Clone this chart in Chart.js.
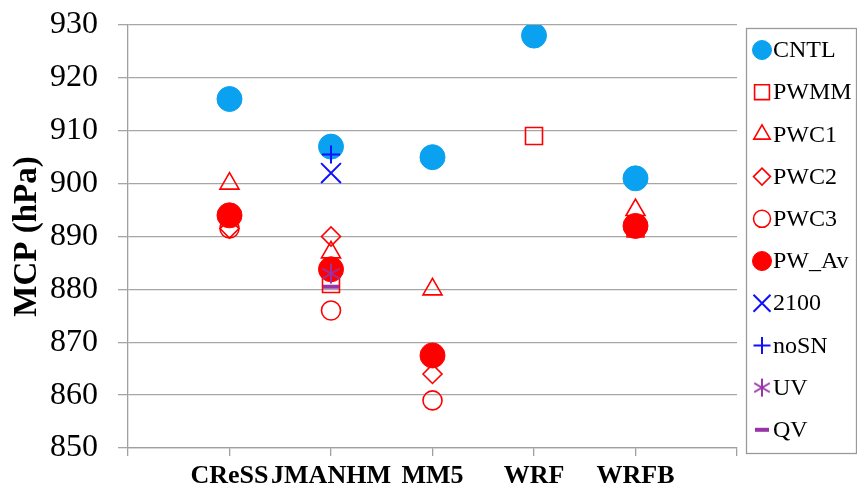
<!DOCTYPE html>
<html>
<head>
<meta charset="utf-8">
<script src="https://cdn.jsdelivr.net/npm/chart.js@4.4.0/dist/chart.umd.min.js"></script>
<style>
  html, body { margin: 0; padding: 0; background: #ffffff; }
  #wrap { width: 857px; height: 488px; position: relative; }
</style>
</head>
<body>
<div id="wrap"><canvas id="c"></canvas></div>
<script>
// Models along the x axis (placed at x = 1..5)
const models = ['CReSS', 'JMANHM', 'MM5', 'WRF', 'WRFB'];
// Y axis range and step (hPa)
const yMin = 850, yMax = 930, yStep = 10;

// Minimum central pressure per model for each experiment (null = not run)
const CNTL  = [916,   907,   905,   928,  901];
const PWMM  = [null,  881,   null,  909,  891.5];
const PWC1  = [900,   887,   880,   null, 895];
const PWC2  = [891.5, 890,   864,   null, 892];
const PWC3  = [891.5, 876,   859,   null, 892];
const PW_Av = [894,   883.8, 867.5, null, 892];
const R2100 = [null,  902,   null,  null, null];
const noSN  = [null,  905.5, null,  null, null];
const UV    = [null,  883,   null,  null, null];
const QV    = [null,  880.5, null,  null, null];

const RED = '#ff0000', SKY = '#0aa2f0', BLUE = '#1010ff', PURPLE = '#9933a8';
const SERIF = '"Liberation Serif", "Times New Roman", serif';

// Six-armed asterisk marker
function asterisk(size, color, lw) {
  const c = document.createElement('canvas');
  c.width = size; c.height = size;
  const g = c.getContext('2d');
  const r = size / 2 - 1, m = size / 2;
  g.strokeStyle = color; g.lineWidth = lw; g.lineCap = 'butt';
  g.beginPath();
  for (let k = 0; k < 3; k++) {
    const a = Math.PI / 2 + k * Math.PI / 3;
    g.moveTo(m + Math.cos(a) * r, m - Math.sin(a) * r);
    g.lineTo(m - Math.cos(a) * r, m + Math.sin(a) * r);
  }
  g.stroke();
  return c;
}
const uvMark = asterisk(22, PURPLE, 2);
const uvMarkLegend = asterisk(20, PURPLE, 2);

function pts(arr) {
  return arr.map((v, i) => (v === null ? null : { x: i + 1, y: v })).filter(p => p);
}

const series = [
  { label: 'CNTL',  data: CNTL,  style: 'circle',   fill: SKY,  stroke: SKY,   r: 12.5, lr: 9.5, bw: 1 },
  { label: 'PWMM',  data: PWMM,  style: 'rect',     fill: 'rgba(0,0,0,0)', stroke: RED, r: 12, lr: 10.5, bw: 1.6 },
  { label: 'PWC1',  data: PWC1,  style: 'triangle', fill: 'rgba(0,0,0,0)', stroke: RED, r: 11, lr: 9.5, bw: 1.6 },
  { label: 'PWC2',  data: PWC2,  style: 'rectRot',  fill: 'rgba(0,0,0,0)', stroke: RED, r: 9.5, lr: 8.5, bw: 1.6 },
  { label: 'PWC3',  data: PWC3,  style: 'circle',   fill: 'rgba(0,0,0,0)', stroke: RED, r: 9.5, lr: 8.5, bw: 1.6 },
  { label: 'PW_Av', data: PW_Av, style: 'circle',   fill: RED,  stroke: RED,   r: 12.5, lr: 9.5, bw: 1 },
  { label: '2100',  data: R2100, style: 'crossRot', fill: BLUE, stroke: BLUE,  r: 14, lr: 12, bw: 2 },
  { label: 'noSN',  data: noSN,  style: 'cross',    fill: BLUE, stroke: BLUE,  r: 9,  lr: 8.5, bw: 2 },
  { label: 'UV',    data: UV,    style: uvMark,     fill: PURPLE, stroke: PURPLE, r: 11, lr: 10, bw: 2, legendStyle: uvMarkLegend },
  { label: 'QV',    data: QV,    style: 'line',     fill: PURPLE, stroke: PURPLE, r: 8,  lr: 7,  bw: 4 }
];

const datasets = series.map((s, i) => ({
  label: s.label,
  data: pts(s.data),
  showLine: false,
  pointStyle: s.style,
  pointRadius: s.r,
  pointHoverRadius: s.r,
  pointBackgroundColor: s.fill,
  pointBorderColor: s.stroke,
  pointBorderWidth: s.bw,
  backgroundColor: s.fill,
  borderColor: s.stroke,
  order: series.length - i   // later series drawn on top
}));

// Boxed legend on the right
const boxLegend = {
  id: 'boxLegend',
  afterDraw(chart) {
    const ctx = chart.ctx;
    const left = 746, top = 28, bottom = 453, right = 856;
    ctx.save();
    ctx.strokeStyle = '#9a9a9a';
    ctx.lineWidth = 1.3;
    ctx.strokeRect(left + 0.5, top + 0.5, right - left, bottom - top);
    const x0 = 762, tx = 773, y0 = 50, dy = 42.2;
    ctx.font = '24px ' + SERIF;
    ctx.textBaseline = 'middle';
    ctx.textAlign = 'left';
    series.forEach((s, i) => {
      const y = y0 + i * dy;
      ctx.fillStyle = s.fill;
      ctx.strokeStyle = s.stroke;
      ctx.lineWidth = s.bw;
      Chart.helpers.drawPoint(ctx, {
        pointStyle: s.legendStyle || s.style,
        radius: s.lr,
        rotation: 0,
        borderWidth: s.bw
      }, x0, y);
      ctx.fillStyle = '#000000';
      ctx.fillText(s.label, tx, y + 1);
    });
    ctx.restore();
  }
};

new Chart(document.getElementById('c'), {
  type: 'scatter',
  data: { datasets },
  plugins: [boxLegend],
  options: {
    responsive: true,
    maintainAspectRatio: false,
    animation: false,
    layout: { padding: { top: 25, right: 120, left: 0, bottom: 0 } },
    plugins: {
      legend: { display: false },
      tooltip: { enabled: false }
    },
    scales: {
      x: {
        type: 'linear',
        min: 0, max: 6,
        afterFit(scale) { scale.height = 40; },
        afterBuildTicks(scale) {
          scale.ticks = [0, 1, 2, 3, 4, 5, 6].map(v => ({ value: v }));
        },
        ticks: {
          autoSkip: false,
          maxRotation: 0,
          padding: 5,
          color: '#000000',
          font: { family: SERIF, size: 26, weight: 'bold' },
          callback: v => models[v - 1] || ''
        },
        grid: { drawOnChartArea: false, drawTicks: true, tickLength: 8, color: '#a0a0a0', lineWidth: 1.3 },
        border: { color: '#a0a0a0', width: 1.3 }
      },
      y: {
        min: yMin, max: yMax,
        afterFit(scale) {
          scale.width = 128;
          // labels may overhang the plot edges; keep the plot area fixed
          scale.paddingTop = 0;
          scale.paddingBottom = 0;
        },
        ticks: {
          stepSize: yStep,
          padding: 20,
          color: '#000000',
          font: { family: SERIF, size: 32 }
        },
        grid: { color: '#a6a6a6', lineWidth: 1.3, tickLength: 10 },
        border: { color: '#a0a0a0', width: 1.3 },
        title: {
          display: true,
          text: 'MCP (hPa)',
          color: '#000000',
          padding: { top: 8, bottom: 0 },
          font: { family: SERIF, size: 33, weight: 'bold' }
        }
      }
    }
  }
});
</script>
</body>
</html>
